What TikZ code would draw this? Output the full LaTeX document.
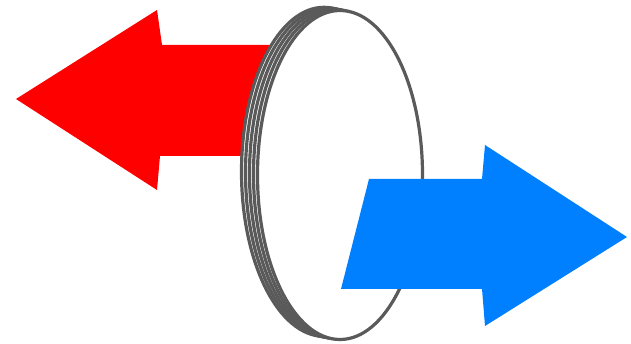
\documentclass[tikz,border=0pt]{standalone}
\definecolor{redarrow}{HTML}{FF0000}
\definecolor{bluearrow}{HTML}{0080FF}
\definecolor{rim}{HTML}{5A5A5A}
\begin{document}
\begin{tikzpicture}[x=1pt,y=-1pt,
  layer/.style={draw=rim,line width=3.2pt,fill=white}]
\useasboundingbox (0,0) rectangle (631,344);
% red arrow (behind disk)
\fill[redarrow] (16,99) -- (157,10) -- (162,45) -- (300,45) -- (300,156) -- (160,156) -- (157,190) -- cycle;
% disk layers
\foreach \i in {4,3,2,1,0}{
  \draw[layer] ({340-4*\i},{175-0.8*\i}) ellipse [x radius=82.5, y radius=164.5];
}
% blue arrow (in front)
\fill[bluearrow] (341,289) -- (369,179) -- (482,179) -- (485,145) -- (627,237) -- (485,326) -- (482,289) -- cycle;
\end{tikzpicture}
\end{document}
